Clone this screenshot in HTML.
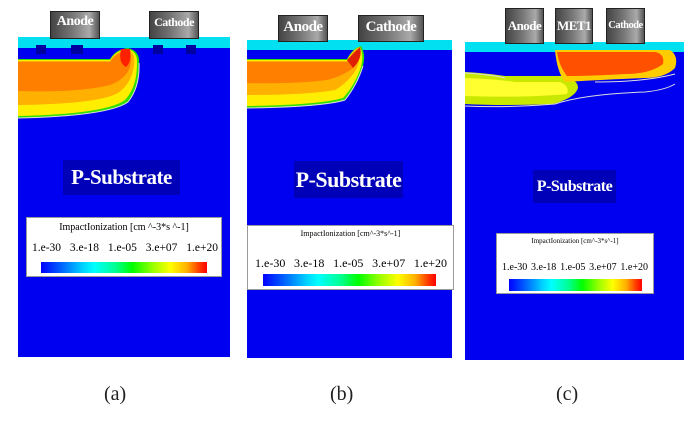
<!DOCTYPE html>
<html><head><meta charset="utf-8"><style>
body{margin:0;width:697px;height:423px;background:#fff;position:relative;overflow:hidden;font-family:"Liberation Serif",serif}
.a{position:absolute}
.pan{background:#0000f0}
.cy{background:#00e0f0}
.el{background:linear-gradient(90deg,#444 0%,#777 45%,#aaa 80%,#555 100%);border:1px solid #222;color:#fff;font-weight:bold;text-align:center;white-space:nowrap;overflow:hidden;letter-spacing:-0.5px}
.ps{background:#0000b8;color:#fff;font-weight:bold;text-align:center;white-space:nowrap;letter-spacing:-0.5px}
.leg{background:#fff;border:1px solid #999}
.nums{position:absolute;display:flex;justify-content:space-between;white-space:nowrap}
.cb{position:absolute;background:linear-gradient(90deg,#0000ff 0%,#0060ff 12%,#00d0ff 25%,#00ffff 32%,#00ff90 45%,#00ff00 55%,#a0ff00 68%,#ffff00 78%,#ffb000 88%,#ff4000 95%,#ff0000 100%)}
.cap{position:absolute;font-size:20px;color:#222}
</style></head><body>
<!-- Panel a -->
<div class="a pan" style="left:18px;top:37px;width:212px;height:320px"></div>
<div class="a cy" style="left:18px;top:37px;width:212px;height:11px"></div>
<svg class="a" style="left:18px;top:37px" width="212" height="320">
<rect x="18" y="8" width="10" height="9" fill="#0000a0"/><rect x="53" y="8" width="12" height="9" fill="#0000a0"/>
<rect x="135" y="8" width="10" height="9" fill="#0000a0"/><rect x="168" y="8" width="10" height="9" fill="#0000a0"/>
<path d="M0 22 L92 22 Q98 12 110 11 Q122 14 121 26 Q122 50 110 65 Q90 79 0 81 Z" fill="#30e000"/>
<path d="M0 23 L92 23 Q98 13 110 12 Q120 15 119 27 Q119 50 107 63 Q88 77 0 79 Z" fill="#ffee00"/>
<path d="M0 24 L92 24 Q98 14 110 13 Q118 16 116 28 Q114 46 100 56 Q80 67 0 68 Z" fill="#ffb000"/>
<path d="M0 25 L92 25 Q98 15 110 14 Q115 18 112 30 Q108 42 92 48 Q60 56 0 54 Z" fill="#ff8000"/>
<path d="M103 12 L112 12 Q114 25 108 30 Q100 26 103 12Z" fill="#ff2000"/>
<path d="M0 81 Q90 79 110 65 Q122 50 121 26" stroke="#ddd" fill="none" stroke-width="1"/>
</svg>
<div class="a el" style="left:50px;top:11px;width:48px;height:26px;font-size:14px;line-height:20px">Anode</div>
<div class="a el" style="left:149px;top:11px;width:48px;height:26px;font-size:12px;line-height:20px">Cathode</div>
<div class="a ps" style="left:63px;top:160px;width:117px;height:35px;font-size:21px;line-height:35px">P-Substrate</div>
<div class="a leg" style="left:26px;top:217px;width:194px;height:58px">
<div class="a" style="left:0;top:4px;width:194px;text-align:center;font-size:10px">ImpactIonization [cm ^-3*s ^-1]</div>
<div class="nums" style="left:5px;top:24px;width:186px;font-size:11.5px"><span>1.e-30</span><span>3.e-18</span><span>1.e-05</span><span>3.e+07</span><span>1.e+20</span></div>
<div class="cb" style="left:14px;top:44px;width:166px;height:11px"></div></div>

<!-- Panel b -->
<div class="a pan" style="left:247px;top:40px;width:205px;height:318px"></div>
<div class="a cy" style="left:247px;top:40px;width:205px;height:10px"></div>
<svg class="a" style="left:247px;top:40px" width="205" height="318">
<path d="M0 19 L100 19 Q106 8 114 6 Q119 14 116 26 Q110 45 98 60 Q75 67 0 68 Z" fill="#30e000"/>
<path d="M0 20 L100 20 Q106 9 113 7 Q117 15 114 27 Q108 45 96 58 Q72 65 0 66 Z" fill="#ffee00"/>
<path d="M0 21 L100 21 Q106 10 112 8 Q114 18 110 28 Q102 42 88 50 Q60 55 0 55 Z" fill="#ffb000"/>
<path d="M0 22 L100 22 Q106 11 111 9 Q112 20 106 28 Q96 36 80 40 Q50 44 0 43 Z" fill="#ff8000"/>
<path d="M100 20 L113 7 Q116 18 106 28Z" fill="#e02000"/>
<path d="M0 68 Q75 67 98 60 Q110 45 116 26" stroke="#ddd" fill="none"/>
</svg>
<div class="a el" style="left:278px;top:15px;width:48px;height:25px;font-size:15px;line-height:22px">Anode</div>
<div class="a el" style="left:358px;top:15px;width:64px;height:25px;font-size:15px;line-height:22px">Cathode</div>
<div class="a ps" style="left:294px;top:161px;width:109px;height:37px;font-size:22px;line-height:37px">P-Substrate</div>
<div class="a leg" style="left:247px;top:225px;width:205px;height:63px">
<div class="a" style="left:0;top:3px;width:205px;text-align:center;font-size:8px">ImpactIonization [cm^-3*s^-1]</div>
<div class="nums" style="left:7px;top:30px;width:192px;font-size:12px"><span>1.e-30</span><span>3.e-18</span><span>1.e-05</span><span>3.e+07</span><span>1.e+20</span></div>
<div class="cb" style="left:15px;top:48px;width:173px;height:12px"></div></div>

<!-- Panel c -->
<div class="a pan" style="left:465px;top:42px;width:219px;height:318px"></div>
<div class="a cy" style="left:465px;top:42px;width:219px;height:10px"></div>
<svg class="a" style="left:465px;top:42px" width="219" height="318">
<path d="M0 30 Q20 31 40 34 L100 34 Q113 38 113 46 Q110 56 88 62 Q40 64 0 62 Z" fill="#c8e800"/>
<path d="M0 36 Q30 37 50 40 L95 40 Q105 44 102 52 Q60 56 0 54 Z" fill="#ffff30"/>
<path d="M90 8 L205 8 Q214 14 210 26 Q200 36 180 36 Q130 38 100 40 Q92 30 90 8Z" fill="#ffcc00"/>
<path d="M92 10 L190 10 Q200 12 198 22 Q185 32 160 32 Q125 34 102 34 Q94 24 92 10Z" fill="#ff5000"/>
<path d="M0 64 Q40 66 90 62 Q120 52 180 50 Q200 48 210 42" stroke="#ddd" fill="none"/>
<path d="M0 31 Q30 33 40 36 M130 40 Q180 40 210 32" stroke="#ddd" fill="none"/>
</svg>
<div class="a el" style="left:505px;top:8px;width:37px;height:34px;font-size:13px;line-height:34px">Anode</div>
<div class="a el" style="left:555px;top:8px;width:36px;height:34px;font-size:13px;line-height:34px">MET1</div>
<div class="a el" style="left:606px;top:8px;width:37px;height:34px;font-size:10.5px;line-height:34px">Cathode</div>
<div class="a ps" style="left:533px;top:170px;width:83px;height:33px;font-size:16px;line-height:33px">P-Substrate</div>
<div class="a leg" style="left:496px;top:233px;width:156px;height:59px">
<div class="a" style="left:0;top:3px;width:156px;text-align:center;font-size:7px">ImpactIonization [cm^-3*s^-1]</div>
<div class="nums" style="left:5px;top:28px;width:146px;font-size:10px"><span>1.e-30</span><span>3.e-18</span><span>1.e-05</span><span>3.e+07</span><span>1.e+20</span></div>
<div class="cb" style="left:12px;top:45px;width:133px;height:12px"></div></div>

<div class="cap" style="left:104px;top:383px">(a)</div>
<div class="cap" style="left:330px;top:383px">(b)</div>
<div class="cap" style="left:556px;top:383px">(c)</div>
</body></html>
